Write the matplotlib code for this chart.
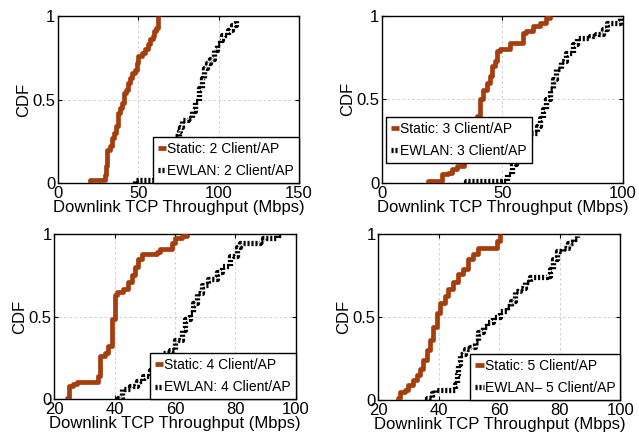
import matplotlib
matplotlib.use("Agg")
import matplotlib.pyplot as plt

plt.rcParams["font.family"] = ["Liberation Sans", "DejaVu Sans"]

STATIC_COLOR = "#A63D0C"

# ---- data (throughput in Mbps, CDF level) ----
# 2 clients / AP
s2_x = [20, 20, 28, 29, 30, 30.5, 32.5, 33.5, 35, 36, 37, 38.5, 40, 41, 42.5, 43.5,
        45, 46, 48, 49, 50, 52, 54, 56, 57, 59, 59.5, 61, 62]
s2_y = [0.0, 0.02, 0.02, 0.05, 0.1, 0.2, 0.22, 0.27, 0.3, 0.34, 0.42, 0.45, 0.48, 0.54, 0.56, 0.6,
        0.63, 0.66, 0.68, 0.72, 0.76, 0.78, 0.8, 0.83, 0.86, 0.88, 0.91, 0.93, 1.0]
e2_x = [48, 48, 59, 60, 63, 65, 67, 69, 71, 73, 75, 76, 77, 80.6, 83.5, 85.5, 87.6, 88,
        89.6, 90.6, 92.7, 94.8, 96.9, 98.9, 101, 102, 106, 108, 111]
e2_y = [0.0, 0.02, 0.02, 0.05, 0.08, 0.12, 0.16, 0.2, 0.24, 0.28, 0.31, 0.335, 0.38, 0.39, 0.43,
        0.49, 0.52, 0.57, 0.63, 0.69, 0.72, 0.745, 0.795, 0.835, 0.855, 0.885, 0.915, 0.945, 0.985]

# 3 clients / AP
s3_x = [19, 19, 24.7, 27.5, 29, 31, 33.7, 34, 35, 36, 37, 38, 39, 39.3, 40.6, 42, 43.4, 44.8,
        45.5, 46.9, 47.6, 49, 52.4, 53.1, 58, 58.6, 60, 62.8, 65.6, 68.3, 69.7]
s3_y = [0.0, 0.01, 0.05, 0.06, 0.08, 0.1, 0.1, 0.13, 0.17, 0.22, 0.27, 0.32, 0.36, 0.4, 0.5, 0.555,
        0.6, 0.64, 0.7, 0.73, 0.79, 0.8, 0.8, 0.84, 0.84, 0.9, 0.91, 0.94, 0.96, 0.99, 1.0]
e3_x = [35, 35, 50.3, 51.7, 53.8, 55.8, 57.3, 59.3, 61.4, 64.2, 65.6, 67, 68.3, 69.7, 71.1,
        72.4, 74.5, 76.6, 79.4, 80.8, 86.3, 89.1, 91.9, 93.3, 98.8]
e3_y = [0.0, 0.01, 0.01, 0.05, 0.11, 0.15, 0.2, 0.25, 0.3, 0.34, 0.39, 0.44, 0.5, 0.56, 0.62,
        0.68, 0.73, 0.78, 0.83, 0.87, 0.88, 0.89, 0.92, 0.96, 0.99]

# 4 clients / AP
s4_x = [24.1, 24.1, 24.7, 26.3, 27.4, 34, 34.5, 35.1, 36.8, 37.9, 39, 40.1, 40.6, 42.8, 44.5,
        45.6, 46.7, 47.8, 48.9, 53.9, 55, 57.7, 58.9, 60, 62.2, 63.8]
s4_y = [0.0, 0.01, 0.08, 0.09, 0.107, 0.107, 0.14, 0.26, 0.28, 0.32, 0.485, 0.63, 0.65, 0.67, 0.71,
        0.75, 0.8, 0.85, 0.88, 0.89, 0.91, 0.91, 0.95, 0.98, 0.99, 1.0]
e4_x = [41.2, 41.2, 42.3, 45.1, 47.3, 49.5, 51.7, 54.5, 56.1, 58.3, 60, 62.2, 63.3, 64.9, 66,
        67.1, 68.8, 71, 73.8, 75.4, 78.2, 80.4, 81.5, 88.1, 89.2, 93.6, 95.3]
e4_y = [0.0, 0.01, 0.06, 0.08, 0.11, 0.14, 0.18, 0.22, 0.28, 0.3, 0.36, 0.42, 0.485, 0.525, 0.585,
        0.645, 0.69, 0.73, 0.77, 0.81, 0.87, 0.92, 0.95, 0.96, 0.98, 0.995, 1.0]

# 5 clients / AP
s5_x = [26.6, 26.6, 27.2, 28.8, 29.9, 31.6, 32.7, 33.8, 34.9, 36, 37.1, 38.2, 39.3, 40.4, 42,
        43.1, 44.8, 46.4, 48.1, 49.7, 51.4, 53, 58, 59.1, 60.2]
s5_y = [0.0, 0.01, 0.05, 0.06, 0.09, 0.12, 0.15, 0.19, 0.24, 0.3, 0.36, 0.44, 0.525, 0.585, 0.625,
        0.667, 0.71, 0.76, 0.79, 0.85, 0.88, 0.92, 0.92, 0.96, 1.0]
e5_x = [36, 36, 37.6, 38.7, 44.2, 45.3, 45.9, 46.4, 47, 48.6, 50.3, 51.9, 53, 54.7, 55.8, 58,
        60.2, 62.4, 64, 65.1, 66.8, 68.4, 70.1, 75.6, 76.7, 77.8, 78.9, 81.1, 82.7, 84.4, 85.5]
e5_y = [0.0, 0.01, 0.04, 0.06, 0.06, 0.1, 0.16, 0.22, 0.28, 0.31, 0.32, 0.35, 0.41, 0.44, 0.47,
        0.5, 0.535, 0.565, 0.6, 0.655, 0.675, 0.71, 0.74, 0.75, 0.79, 0.85, 0.9, 0.92, 0.95, 0.97,
        0.99]

panels = [
    dict(rect=[0.091, 0.577, 0.377, 0.386], xlim=(0, 150), xticks=[0, 50, 100, 150],
         s=(s2_x, s2_y), e=(e2_x, e2_y),
         labels=("Static: 2 Client/AP", "EWLAN: 2 Client/AP"),
         leg=dict(loc="lower right", bbox_to_anchor=(1.0, 0.0))),
    dict(rect=[0.598, 0.578, 0.3765, 0.385], xlim=(0, 100), xticks=[0, 50, 100],
         s=(s3_x, s3_y), e=(e3_x, e3_y),
         labels=("Static: 3 Client/AP", "EWLAN: 3 Client/AP"),
         leg=dict(loc="lower left", bbox_to_anchor=(0.015, 0.118))),
    dict(rect=[0.085, 0.078, 0.378, 0.381], xlim=(20, 100), xticks=[20, 40, 60, 80, 100],
         s=(s4_x, s4_y), e=(e4_x, e4_y),
         labels=("Static: 4 Client/AP", "EWLAN: 4 Client/AP"),
         leg=dict(loc="lower right", bbox_to_anchor=(1.0, 0.0))),
    dict(rect=[0.592, 0.076, 0.379, 0.383], xlim=(20, 100), xticks=[20, 40, 60, 80, 100],
         s=(s5_x, s5_y), e=(e5_x, e5_y),
         labels=("Static: 5 Client/AP", "EWLAN\u2013 5 Client/AP"),
         leg=dict(loc="lower right", bbox_to_anchor=(1.0, 0.0))),
]

fig = plt.figure(figsize=(6.39, 4.33), dpi=100)
for p in panels:
    ax = fig.add_axes(p["rect"])
    ax.plot(*p["s"], drawstyle="steps-post", color=STATIC_COLOR, lw=3.4,
            solid_capstyle="butt", label=p["labels"][0], zorder=3)
    ax.plot(*p["e"], drawstyle="steps-post", color="black", lw=3.8,
            dashes=(0.4, 0.35), dash_capstyle="butt", label=p["labels"][1], zorder=3)
    ax.set_xlim(*p["xlim"])
    ax.set_ylim(0, 1)
    ax.set_xticks(p["xticks"])
    ax.set_yticks([0, 0.5, 1])
    ax.set_yticklabels(["0", "0.5", "1"])
    ax.grid(True, color="#c8c8c8", ls=(0, (3, 3)), lw=0.6)
    ax.tick_params(direction="in", length=3, width=0.8, top=True, right=True,
                   labelsize=12, pad=2)
    for sp in ax.spines.values():
        sp.set_linewidth(1.0)
    ax.set_xlabel("Downlink TCP Throughput (Mbps)", fontsize=12, labelpad=-0.5)
    ax.set_ylabel("CDF", fontsize=12, labelpad=1)
    leg = ax.legend(fontsize=10, frameon=True, fancybox=False, framealpha=1,
                    edgecolor="black", handlelength=0.6, handletextpad=0.1,
                    borderpad=0.35, labelspacing=0.6, borderaxespad=0.0, **p["leg"])
    leg.get_frame().set_linewidth(1.0)
    leg.set_zorder(5)

fig.savefig("out.png", dpi=100)
